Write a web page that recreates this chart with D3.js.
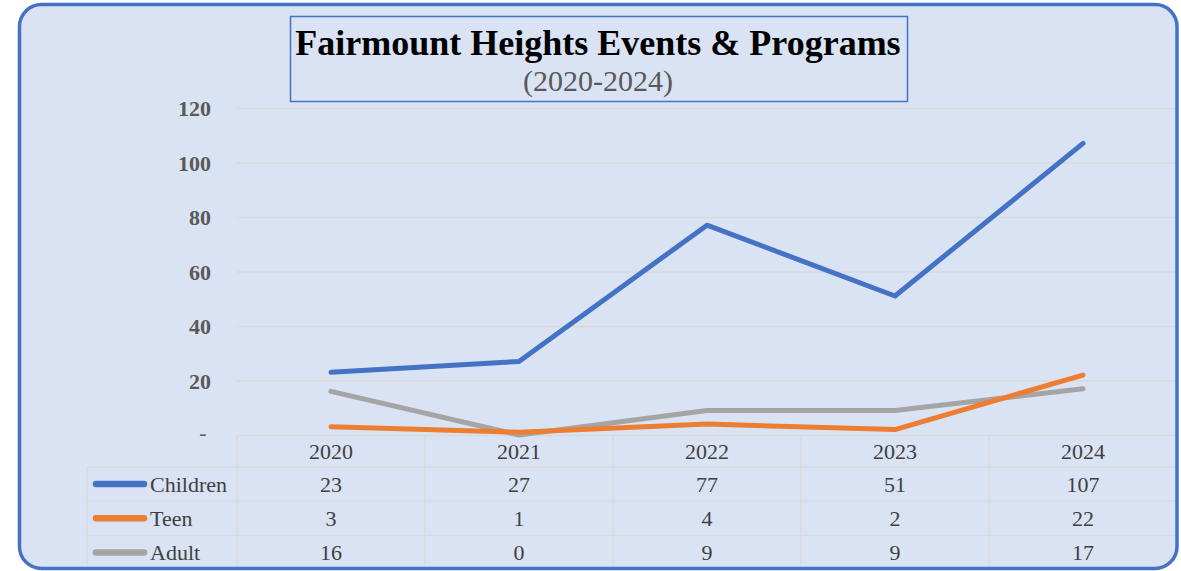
<!DOCTYPE html>
<html>
<head>
<meta charset="utf-8">
<script src="https://cdn.jsdelivr.net/npm/d3@7"></script>
<style>
  body { margin: 0; background: #fff; }
  svg { display: block; font-family: "Liberation Serif", "Times New Roman", serif; }
</style>
</head>
<body>
<div id="chart"></div>
<script>
const years = ["2020", "2021", "2022", "2023", "2024"];
const seriesNames = ["Children", "Teen", "Adult"];
const children = [23, 27, 77, 51, 107];
const teen = [3, 1, 4, 2, 22];
const adult = [16, 0, 9, 9, 17];
const yTicks = [0, 20, 40, 60, 80, 100, 120];
const colors = ["#4472C4", "#ED7D31", "#A5A5A5"];

const series = [children, teen, adult];

const W = 1181, H = 571;
const svg = d3.select("#chart").append("svg").attr("width", W).attr("height", H);

// frame background
svg.append("rect")
  .attr("x", 19.5).attr("y", 4.5).attr("width", 1157.5).attr("height", 564)
  .attr("rx", 22).attr("fill", "#DAE3F3");

const x = d3.scaleBand().domain(years).range([237, 1177]).padding(0);
const y = d3.scaleLinear().domain([0, 120]).range([435, 108]);

// gridlines + y labels
const ga = svg.append("g")
  .attr("transform", "translate(237,0)")
  .call(d3.axisLeft(y).tickValues(yTicks).tickSize(-(1177 - 237)).tickPadding(26)
    .tickFormat((d) => (d === 0 ? "-" : d)));
ga.select(".domain").remove();
ga.selectAll(".tick line").attr("stroke", "#D9D9D9").attr("stroke-width", 1.3);
ga.selectAll(".tick text")
  .attr("font-family", "Liberation Serif, serif")
  .attr("font-size", 22).attr("font-weight", "bold").attr("fill", "#595959")
  .attr("dy", "0.35em");
ga.selectAll(".tick").filter((d) => d === 0).select("text")
  .attr("x", -34).attr("text-anchor", "middle").attr("font-weight", "normal").attr("dy", "0.2em");

// data table grid
const rowTop = 467, rowH = 34.2, tableBottom = 569, tableLeft = 87;
const grid = svg.append("g").attr("stroke", "#D9D9D9").attr("stroke-width", 1.3);
seriesNames.forEach((_, i) => {
  grid.append("line")
    .attr("x1", tableLeft).attr("x2", 1177)
    .attr("y1", rowTop + i * rowH).attr("y2", rowTop + i * rowH);
});
grid.append("line").attr("x1", tableLeft).attr("x2", tableLeft).attr("y1", rowTop).attr("y2", tableBottom);
years.forEach((yr) => {
  grid.append("line").attr("x1", x(yr)).attr("x2", x(yr)).attr("y1", y(0)).attr("y2", tableBottom);
});

// header years
svg.append("g").selectAll("text").data(years).join("text")
  .attr("x", (d) => x(d) + x.bandwidth() / 2)
  .attr("y", (y(0) + rowTop) / 2)
  .attr("dy", "0.35em").attr("text-anchor", "middle")
  .attr("font-size", 22).attr("fill", "#404040").text((d) => d);

// rows
seriesNames.forEach((name, i) => {
  const cy = rowTop + i * rowH + rowH / 2;
  const row = svg.append("g");
  row.append("line")
    .attr("x1", 96).attr("x2", 144).attr("y1", cy).attr("y2", cy)
    .attr("stroke", colors[i]).attr("stroke-width", 6.5).attr("stroke-linecap", "round");
  row.append("text").attr("x", 150).attr("y", cy).attr("dy", "0.35em")
    .attr("font-size", 22).attr("fill", "#404040").text(name);
  row.selectAll("text.v").data(series[i]).join("text")
    .attr("class", "v")
    .attr("x", (d, j) => x(years[j]) + x.bandwidth() / 2)
    .attr("y", cy).attr("dy", "0.35em").attr("text-anchor", "middle")
    .attr("font-size", 22).attr("fill", "#404040").text((d) => d);
});

// lines (adult drawn first, children on top)
const line = d3.line()
  .x((d, j) => x(years[j]) + x.bandwidth() / 2)
  .y((d) => y(d));
[2, 1, 0].forEach((i) => {
  svg.append("path").datum(series[i])
    .attr("d", line).attr("fill", "none")
    .attr("stroke", colors[i]).attr("stroke-width", 5)
    .attr("stroke-linejoin", "round").attr("stroke-linecap", "round");
});

// title box
svg.append("rect")
  .attr("x", 290.5).attr("y", 16.5).attr("width", 617).attr("height", 85)
  .attr("fill", "#DAE3F3").attr("stroke", "#4472C4").attr("stroke-width", 1.5);
svg.append("text").attr("x", 598).attr("y", 55).attr("text-anchor", "middle")
  .attr("font-size", 36).attr("font-weight", "bold").attr("fill", "#000")
  .text("Fairmount Heights Events & Programs");
svg.append("text").attr("x", 598).attr("y", 91).attr("text-anchor", "middle")
  .attr("font-size", 30).attr("fill", "#595959")
  .text("(2020-2024)");

// frame border on top
svg.append("rect")
  .attr("x", 19.5).attr("y", 4.5).attr("width", 1157.5).attr("height", 564)
  .attr("rx", 22).attr("fill", "none").attr("stroke", "#4472C4").attr("stroke-width", 3.5);
</script>
</body>
</html>
